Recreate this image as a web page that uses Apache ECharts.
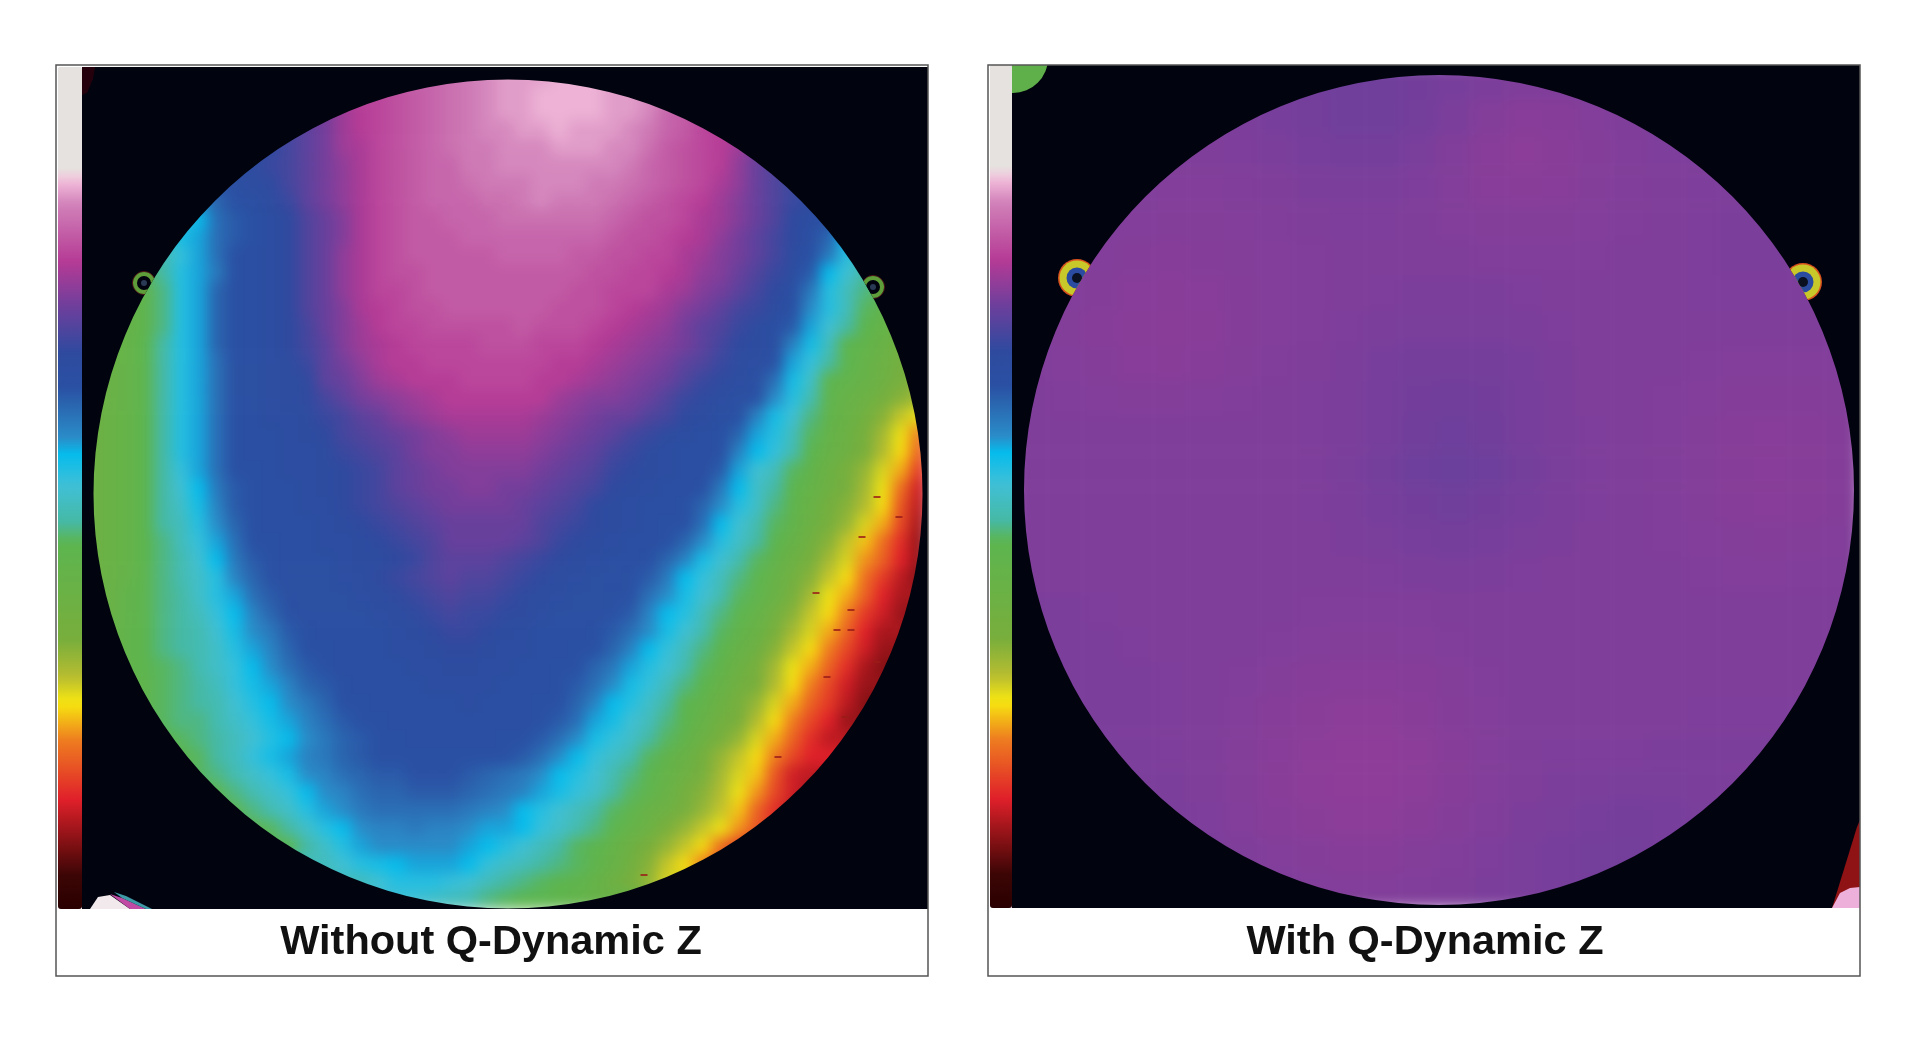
<!DOCTYPE html>
<html><head><meta charset="utf-8">
<style>
html,body{margin:0;padding:0;background:#fff}
#main{width:1920px;height:1046px}
#main canvas:first-of-type{filter:blur(7px);clip-path:path('M58 67H928V909H58Z M990 65H1860V908H990Z')}
</style>
<script src="https://cdn.jsdelivr.net/npm/echarts@6/dist/echarts.min.js"></script>
</head><body><div id="main"></div>
<script>
// Caption labels
const captions=['Without Q-Dynamic Z','With Q-Dynamic Z'];
// Height readings, rows top to bottom; first number of a row = first filled column
const leftRows=[
[19,81,82,83,84,85,85,85,86,86,86,85],
[16,78,79,80,81,82,83,84,85,85,86,86,86,86,85,85,84],
[13,72,75,77,78,79,80,81,82,83,84,85,85,86,86,86,86,85,85,84,81,80,78],
[11,68,70,72,75,77,78,79,80,81,82,83,84,84,85,85,86,85,85,85,84,83,81,80,78,77],
[10,66,68,70,72,75,76,78,79,80,81,82,83,83,84,84,84,85,85,85,84,84,82,80,79,78,77,75,72],
[9,65,67,68,70,72,74,76,78,79,80,81,81,83,83,84,84,84,84,84,84,84,83,81,80,79,78,77,74,71,69],
[8,63,65,66,68,70,72,74,76,78,79,80,81,81,82,83,83,83,84,84,84,83,83,82,81,80,79,78,76,74,71,69,67],
[6,56,60,62,63,65,67,70,72,74,76,78,79,80,81,81,81,82,82,83,84,83,83,83,82,81,80,79,78,77,75,73,71,69,67,65],
[5,50,54,59,61,62,64,66,69,71,73,76,78,79,80,80,81,81,81,82,82,82,82,82,82,81,80,79,79,78,76,75,73,71,69,66,64,62],
[4,47,53,55,59,61,62,64,66,69,71,73,76,78,79,80,80,80,81,81,81,81,81,81,81,81,80,79,79,78,77,76,74,72,70,68,66,63,60,54],
[3,46,47,51,55,59,62,63,64,66,69,71,74,76,78,79,80,80,80,80,80,81,81,81,81,80,80,79,79,78,78,76,75,73,72,70,68,65,62,58,52,48],
[2,44,44,46,52,55,58,62,63,64,66,69,71,74,76,78,79,79,80,80,80,80,80,80,80,80,80,79,79,78,78,77,76,74,73,71,69,67,64,61,54,50,46,44],
[2,40,41,45,52,55,60,62,63,64,66,69,71,74,76,78,78,79,80,80,80,80,80,80,80,80,79,79,78,78,78,76,75,73,72,70,68,66,63,58,52,48,45,43],
[1,40,40,42,45,52,55,60,62,63,64,66,69,71,73,76,77,78,79,79,80,80,80,80,80,80,79,79,79,78,77,76,75,73,72,70,68,67,65,62,56,52,48,44,41,39],
[1,38,40,42,45,52,55,60,62,63,64,66,68,71,73,75,77,78,78,79,79,79,79,79,80,79,79,79,78,77,76,75,74,72,70,69,67,65,63,61,55,50,46,43,40,37],
[1,38,40,43,46,52,55,60,62,63,64,66,68,70,73,75,76,77,78,78,78,78,79,79,79,78,78,78,77,76,75,74,73,72,70,68,66,65,63,57,53,48,43,41,38,35],
[0,36,38,40,43,46,52,55,59,62,63,64,65,67,70,72,74,76,77,77,78,78,78,78,78,78,78,77,77,76,75,74,73,72,70,69,67,65,64,62,55,51,46,43,40,37,34],
[0,36,38,40,43,46,52,55,59,62,63,64,65,66,70,71,73,75,76,77,77,77,78,78,78,78,77,77,76,75,74,73,72,71,69,67,66,64,63,59,53,49,43,41,39,36,33,31],
[0,36,38,40,43,46,52,55,59,62,63,64,65,66,68,70,72,73,74,75,76,77,77,77,77,77,77,75,74,73,73,72,71,69,67,66,64,63,62,56,52,47,42,39,37,34,31,29],
[0,36,38,40,43,46,52,55,59,62,63,64,64,65,67,68,70,71,73,74,75,76,76,76,76,76,75,74,73,72,71,71,69,68,66,65,63,62,57,53,50,45,41,38,35,31,27,25],
[0,36,38,40,43,46,52,55,59,62,63,63,64,65,66,68,69,70,71,72,73,74,75,75,75,75,74,73,72,71,70,68,67,65,64,63,62,60,55,52,48,44,40,37,33,29,25,20],
[0,36,38,40,43,46,52,55,59,62,63,63,64,64,65,67,68,69,70,72,73,73,74,74,74,74,73,72,71,70,68,67,65,64,63,63,62,57,54,51,47,43,39,36,32,28,24,18],
[0,36,38,40,43,46,51,55,59,62,62,63,64,64,65,66,67,68,70,71,72,73,73,73,73,73,72,71,70,69,67,66,65,64,63,63,61,55,50,48,44,41,37,33,30,26,22,15],
[0,36,38,40,43,46,50,54,58,61,62,63,63,64,65,66,67,68,70,71,72,72,73,73,72,72,71,70,69,68,66,65,64,63,63,62,58,54,49,46,43,40,36,33,29,25,19,12],
[0,36,38,40,43,46,49,53,57,61,62,63,63,64,64,66,67,68,69,70,71,72,72,72,72,71,70,69,68,66,65,64,63,63,62,60,56,52,49,45,42,38,34,31,28,24,17,11],
[0,36,38,40,43,46,48,52,56,60,62,63,63,63,64,65,66,67,68,69,70,71,71,71,71,71,69,68,67,66,65,64,63,62,62,59,54,50,47,44,41,37,33,30,26,22,16,10],
[0,36,38,40,43,45,48,51,55,59,62,62,63,63,64,64,65,66,67,68,69,71,71,71,71,70,69,67,66,65,64,63,63,62,60,56,52,49,46,43,39,35,31,27,23,19,14,9],
[0,36,38,40,43,45,47,50,54,58,61,62,63,63,63,64,65,65,66,67,69,70,70,70,69,68,67,66,65,64,63,63,62,60,57,53,50,47,44,41,37,33,29,26,21,18,13,9],
[0,36,38,40,43,45,47,49,52,57,60,62,63,63,63,64,64,66,67,68,69,70,69,69,68,67,66,65,64,63,63,62,61,58,54,51,48,45,43,39,35,31,27,24,19,15,11,8],
[0,36,38,41,43,45,46,49,52,55,59,61,63,63,63,63,64,65,66,67,68,69,68,68,67,66,65,64,63,63,62,62,59,56,53,50,47,44,42,38,33,29,25,22,18,13,10],
[0,36,38,41,43,45,46,48,51,54,57,60,62,63,63,63,63,64,65,66,67,68,67,67,66,66,64,63,63,63,62,61,57,54,52,48,45,43,40,35,31,27,24,20,15,12,9],
[0,36,39,41,43,45,46,47,50,53,56,58,61,62,63,63,63,63,64,65,66,67,67,66,65,64,63,63,63,62,61,59,56,53,50,47,44,41,38,33,29,26,22,18,13,10],
[1,39,41,43,45,46,47,49,52,55,57,60,62,62,63,63,63,64,64,65,66,66,65,64,64,63,63,62,62,60,57,54,51,48,45,43,39,36,31,27,24,20,16,12,9],
[1,38,41,43,44,45,47,49,51,54,56,59,61,62,63,63,63,63,64,64,65,65,64,64,63,63,62,62,60,58,55,52,50,47,44,41,37,33,29,25,22,18,14,10,8],
[1,38,40,42,44,45,46,48,51,53,55,57,60,61,62,63,63,63,63,64,64,64,64,63,63,63,62,61,59,56,53,51,48,45,43,39,35,32,28,24,20,16,12,9],
[2,40,42,44,45,46,47,50,52,54,56,58,60,62,62,63,63,63,63,63,64,63,63,63,62,62,60,57,54,52,49,46,43,41,37,33,30,26,22,18,15,11,8],
[3,42,44,45,45,47,49,51,53,55,57,59,61,62,62,63,63,63,63,63,63,63,63,62,61,59,55,53,50,48,45,43,39,35,32,28,24,20,16,13,9],
[3,41,43,44,45,46,48,50,52,54,56,58,60,61,62,62,63,63,63,63,63,62,62,61,59,56,53,51,49,46,44,41,37,33,30,26,22,18,14,11],
[4,42,43,44,46,48,51,53,55,57,58,60,61,62,62,62,62,62,62,62,62,61,59,56,54,51,49,47,44,41,38,34,30,27,24,20,16,13],
[5,42,44,45,47,49,51,53,56,57,59,60,61,61,62,62,62,61,60,59,58,56,54,52,50,47,45,43,40,36,33,29,26,23,17,12,11],
[6,42,43,45,47,49,51,54,56,57,59,60,60,61,61,61,60,59,58,57,55,53,51,49,46,44,42,38,34,31,28,25,21,16,12,10],
[7,42,43,45,47,49,52,55,56,58,59,59,59,59,59,58,57,56,54,52,50,48,46,44,42,38,36,33,30,27,23,18,14,11],
[9,42,44,46,49,52,54,56,57,57,58,57,57,56,55,55,54,51,49,47,45,43,40,37,32,30,27,25,21,17,14],
[11,43,46,49,52,55,56,56,56,56,56,55,54,52,50,48,46,44,43,40,36,32,30,27,24,19,15],
[13,48,50,52,53,54,55,55,55,54,51,49,48,46,45,44,42,39,35,31,27,24,20,16],
[15,48,50,52,52,52,51,50,48,46,45,44,43,42,40,36,33,30,26],
[18,50,49,48,47,45,44,43,43,42,41,39]
];
const rightRows=[
[72.6,72.6,72.6,72.6,72.6,72.6,72.5,72.2,71.9,71.7,71.7,71.9,72.3,72.6,72.8,72.8,72.7,72.6,72.6,72.6,72.6,72.6,72.6,72.6],
[72.8,72.8,72.8,72.8,72.8,72.7,72.6,72.3,72.0,71.7,71.7,72.0,72.5,73.1,73.4,73.3,73.0,72.8,72.7,72.7,72.7,72.7,72.7,72.7],
[72.8,72.8,72.8,72.8,72.8,72.8,72.7,72.5,72.3,72.1,72.1,72.4,72.9,73.4,73.7,73.5,73.2,72.9,72.7,72.7,72.7,72.7,72.7,72.7],
[72.8,72.8,72.8,72.9,73.0,73.0,72.9,72.8,72.6,72.5,72.5,72.7,73.0,73.4,73.5,73.4,73.1,72.9,72.8,72.7,72.7,72.7,72.7,72.7],
[72.8,72.8,72.9,73.0,73.1,73.1,73.0,72.9,72.8,72.7,72.7,72.8,73.0,73.1,73.1,73.1,73.0,72.9,72.8,72.7,72.6,72.6,72.6,72.6],
[72.8,72.9,73.0,73.2,73.3,73.2,73.1,73.0,72.9,72.8,72.8,72.8,72.8,72.9,72.9,72.9,72.9,72.8,72.8,72.7,72.6,72.6,72.6,72.6],
[72.9,73.0,73.2,73.4,73.5,73.4,73.2,73.0,72.9,72.8,72.7,72.6,72.6,72.6,72.7,72.8,72.8,72.8,72.8,72.7,72.7,72.7,72.7,72.7],
[73.0,73.1,73.3,73.5,73.6,73.5,73.2,73.0,72.9,72.7,72.5,72.4,72.4,72.4,72.5,72.7,72.8,72.8,72.8,72.8,72.8,72.8,72.8,72.8],
[72.9,73.0,73.2,73.4,73.5,73.3,73.1,72.9,72.8,72.6,72.3,72.1,72.1,72.1,72.3,72.6,72.8,72.8,72.8,72.9,73.0,73.0,73.0,73.0],
[72.8,72.9,73.0,73.1,73.1,73.0,72.9,72.8,72.7,72.5,72.2,71.9,71.8,71.9,72.2,72.5,72.8,72.8,72.9,73.0,73.2,73.2,73.2,73.1],
[72.8,72.8,72.8,72.8,72.8,72.8,72.8,72.8,72.7,72.5,72.2,71.8,71.6,71.8,72.2,72.5,72.7,72.8,72.9,73.1,73.3,73.4,73.3,73.2],
[72.8,72.8,72.8,72.8,72.8,72.8,72.8,72.8,72.7,72.4,72.0,71.6,71.3,71.6,72.0,72.4,72.7,72.8,72.9,73.1,73.3,73.4,73.3,73.2],
[72.8,72.8,72.8,72.8,72.8,72.8,72.8,72.8,72.7,72.5,72.2,71.9,71.7,71.9,72.2,72.5,72.7,72.8,72.9,73.1,73.3,73.4,73.3,73.2],
[72.8,72.8,72.8,72.8,72.8,72.8,72.8,72.8,72.8,72.6,72.4,72.2,72.1,72.2,72.4,72.6,72.8,72.8,72.9,73.0,73.1,73.2,73.1,73.0],
[72.8,72.8,72.8,72.8,72.8,72.8,72.8,72.8,72.8,72.8,72.7,72.6,72.5,72.6,72.7,72.8,72.8,72.8,72.8,72.9,73.0,73.0,72.9,72.9],
[72.6,72.6,72.7,72.8,72.8,72.8,72.8,72.8,72.9,72.9,72.9,72.9,72.8,72.8,72.8,72.8,72.8,72.8,72.8,72.8,72.8,72.8,72.8,72.8],
[72.5,72.5,72.6,72.7,72.8,72.8,72.8,72.9,73.0,73.1,73.1,73.0,72.9,72.8,72.8,72.8,72.8,72.8,72.8,72.8,72.8,72.8,72.8,72.8],
[72.5,72.5,72.5,72.6,72.7,72.8,72.9,73.1,73.3,73.4,73.4,73.3,73.1,72.9,72.8,72.8,72.8,72.8,72.8,72.8,72.8,72.8,72.8,72.8],
[72.5,72.5,72.5,72.6,72.7,72.8,73.0,73.3,73.6,73.7,73.7,73.5,73.2,73.0,72.8,72.8,72.8,72.8,72.8,72.7,72.7,72.7,72.7,72.7],
[72.5,72.5,72.5,72.6,72.7,72.8,73.1,73.4,73.7,73.9,73.9,73.7,73.3,73.0,72.8,72.7,72.7,72.7,72.6,72.6,72.6,72.6,72.6,72.6],
[72.5,72.5,72.5,72.5,72.6,72.8,73.1,73.5,73.8,73.9,73.9,73.7,73.3,73.0,72.8,72.6,72.5,72.4,72.4,72.5,72.6,72.6,72.6,72.6],
[72.5,72.5,72.5,72.5,72.5,72.7,73.0,73.3,73.6,73.7,73.7,73.5,73.2,72.9,72.6,72.4,72.2,72.1,72.2,72.4,72.6,72.6,72.6,72.6],
[72.5,72.5,72.5,72.5,72.5,72.6,72.8,73.0,73.2,73.3,73.3,73.1,72.9,72.7,72.4,72.2,72.0,72.0,72.2,72.4,72.6,72.6,72.6,72.6],
[72.5,72.5,72.5,72.5,72.5,72.5,72.6,72.8,72.9,73.0,73.0,72.9,72.8,72.6,72.4,72.2,72.1,72.1,72.3,72.5,72.6,72.6,72.6,72.6]
];
// Wafer outlines [centre x, centre y, radius], in panel units
const leftWafer=[426,427,414.5];
const rightWafer=[427,425,415];
// Alignment marks just outside each wafer [x, y]
const leftMarks=[[62,216],[791,220]];
const rightMarks=[[65,213],[791,217]];
// Scan specks on the left wafer [x, y]
const leftSpecks=[[795,430],[817,450],[755,563],[769,563],[734,526],[769,543],[795,595],[763,650],[696,690],[562,808],[780,470],[745,610]];
// Corner artefacts, outlines in panel units
const leftCorners=[
 {c:'#24000c',p:[[0,0],[13,0],[11,12],[5,26],[0,28]]},
 {c:'#f2e9ec',p:[[8,842],[16,830],[28,828],[48,842]]},
 {c:'#c14aa4',p:[[28,827],[40,831],[64,842],[48,842]]},
 {c:'#3f9aa8',p:[[32,825],[44,829],[70,842],[64,842],[40,831]]}
];
const rightCorners=[
 {c:'#8f1214',p:[[820,843],[845,762],[848,755],[848,843]]},
 {c:'#edb0da',p:[[820,843],[828,828],[838,823],[848,822],[848,843]]}
];
const rightBlob=[1,-7,35];

const stops=[[0,'#2a0000'],[4,'#3c0505'],[7.4,'#7a0f12'],[13,'#e0202a'],[20,'#ee7c20'],[24.5,'#f7e80f'],[27.5,'#b8bd30'],[32,'#78ae3c'],[43.5,'#5cb54f'],[46,'#46b9a5'],[50.4,'#3fc0d8'],[54,'#05bcec'],[56,'#2a8cc8'],[62,'#2a50a3'],[66,'#2e4a9f'],[71.4,'#6c3f9c'],[76.8,'#b53a95'],[83.6,'#d080b8'],[86.6,'#f4bfdc'],[87.6,'#e6e2df'],[100,'#e6e2df']];
const ramp=[];
for(let v=0;v<=100;v+=0.5){
  let k=0; while(k<stops.length-2&&stops[k+1][0]<v)k++;
  const t=(v-stops[k][0])/(stops[k+1][0]-stops[k][0]);
  ramp.push(echarts.color.lerp(Math.min(1,Math.max(0,t)),[stops[k][1],stops[k+1][1]]));
}
const cellsLeft=[];
leftRows.forEach((r,j)=>{
  const first=r[0],last=r[0]+r.length-2;
  for(let i=0;i<47;i++){
    // cells beyond a row's ends lie under the black surround and only carry the edge reading
    if(i<first-3||i>last+3)continue;
    const v=i<first?r[1]:i>last?r[r.length-1]:r[i-first+1];
    cellsLeft.push([i,j,v]);
  }
});
const cellsRight=[];
rightRows.forEach((r,j)=>r.forEach((v,i)=>cellsRight.push([i,j,v])));
const idx=n=>Array.from({length:n},(_,i)=>i);
const BLACK='#01040e';
const panels=[
 {bar:58,x:82,y:67,w:846,h:842,nx:47,ny:47},
 {bar:990,x:1012,y:65,w:848,h:843,nx:24,ny:24}
];
const grids=[],xA=[],yA=[];
panels.forEach((p,k)=>{grids.push({left:p.x,top:p.y,width:p.w,height:p.h});
 xA.push({type:'category',data:idx(p.nx),show:false,gridIndex:k});
 yA.push({type:'category',data:idx(p.ny),inverse:true,show:false,gridIndex:k});});
panels.forEach((p,k)=>{grids.push({left:p.x,top:p.y,width:p.w,height:p.h});
 xA.push({type:'value',min:0,max:p.w,show:false,gridIndex:k+2});
 yA.push({type:'value',min:0,max:p.h,inverse:true,show:false,gridIndex:k+2});});
const heat=(k,d)=>({type:'heatmap',xAxisIndex:k,yAxisIndex:k,data:d,zlevel:0,progressive:0,silent:true,emphasis:{disabled:true},itemStyle:{borderWidth:0}});
const mask=(k,w)=>({type:'custom',xAxisIndex:k+2,yAxisIndex:k+2,zlevel:1,z:2,clip:true,silent:true,data:[w],
 renderItem:(ps,api)=>{const c=api.coord([api.value(0),api.value(1)]);const r=api.size([api.value(2),0])[0];
  return {type:'ring',shape:{cx:c[0],cy:c[1],r:1600,r0:r},style:{fill:BLACK}};}});
const marks=(k,list,w,kind)=>({type:'custom',xAxisIndex:k+2,yAxisIndex:k+2,zlevel:1,z:3,clip:true,silent:true,data:list,
 renderItem:(ps,api)=>{const c=api.coord([api.value(0),api.value(1)]);const o=api.coord([w[0],w[1]]);const r=api.size([w[2],0])[0];
  const circ=(R,st)=>({type:'circle',shape:{cx:c[0],cy:c[1],r:R},style:st});
  const kids=kind==='thin'
   ?[circ(11.5,{fill:'none',stroke:'#5a1a1a',lineWidth:1}),circ(9,{fill:BLACK,stroke:'#5f9c3a',lineWidth:4}),circ(3,{fill:'#2a3a55'})]
   :[circ(19,{fill:'#d8501e'}),circ(17.5,{fill:'#c9c82a'}),circ(10.5,{fill:'#2b4ba0'}),circ(5,{fill:'#0a1020'})];
  return {type:'group',children:kids,clipPath:{type:'ring',shape:{cx:o[0],cy:o[1],r:1600,r0:r}}};}});
const polys=(k,list)=>({type:'custom',xAxisIndex:k+2,yAxisIndex:k+2,zlevel:1,z:4,clip:true,silent:true,data:list.map((q,i)=>[i,0]),
 renderItem:(ps,api)=>{const q=list[ps.dataIndex];return {type:'polygon',shape:{points:q.p.map(a=>api.coord(a))},style:{fill:q.c}};}});
const blob=(k,b)=>({type:'custom',xAxisIndex:k+2,yAxisIndex:k+2,zlevel:1,z:4,clip:true,silent:true,data:[b],
 renderItem:(ps,api)=>{const c=api.coord([api.value(0),api.value(1)]);return {type:'circle',shape:{cx:c[0],cy:c[1],r:api.size([api.value(2),0])[0]},style:{fill:'#5fb04a'}};}});
const rect=(x,y,w,h,st,z)=>({type:'rect',zlevel:1,z:z||1,silent:true,shape:{x,y,width:w,height:h},style:st});
const frame={fill:'none',stroke:'#555',lineWidth:1.5};
const cap=(t,x)=>({type:'text',zlevel:1,z:9,silent:true,x,y:943,style:{text:t,fill:'#111',font:'bold 41.5px "Liberation Sans"',textAlign:'center',textVerticalAlign:'middle'}});
const vm=(k,p)=>({type:'continuous',seriesIndex:k,min:0,max:100,left:p.bar,top:p.y,itemWidth:p.x-p.bar,itemHeight:p.h,padding:0,calculable:false,realtime:false,showLabel:false,text:null,zlevel:1,z:5,inRange:{color:ramp},hoverLink:false});
const chart=echarts.init(document.getElementById('main'),null,{renderer:'canvas'});
chart.setOption({
 animation:false,backgroundColor:'transparent',tooltip:{show:false},
 grid:grids,xAxis:xA,yAxis:yA,
 visualMap:[vm(0,panels[0]),vm(1,panels[1])],
 series:[heat(0,cellsLeft),heat(1,cellsRight),
  mask(0,leftWafer),mask(1,rightWafer),
  marks(0,leftMarks,leftWafer,'thin'),marks(1,rightMarks,rightWafer,'thick'),
  polys(0,leftCorners),polys(1,rightCorners),blob(1,rightBlob),
  {type:'scatter',xAxisIndex:2,yAxisIndex:2,zlevel:1,z:5,silent:true,symbol:'rect',symbolSize:[7,2],itemStyle:{color:'#9a1c18'},data:leftSpecks}],
 graphic:{elements:[
  rect(56,65,872,911,frame,8),rect(988,65,872,911,frame,8),
  rect(56.5,910,871,65.5,{fill:'#fff'},1),rect(988.5,909,871,66.5,{fill:'#fff'},1),
  cap(captions[0],491),cap(captions[1],1425)]}
});
</script></body></html>
